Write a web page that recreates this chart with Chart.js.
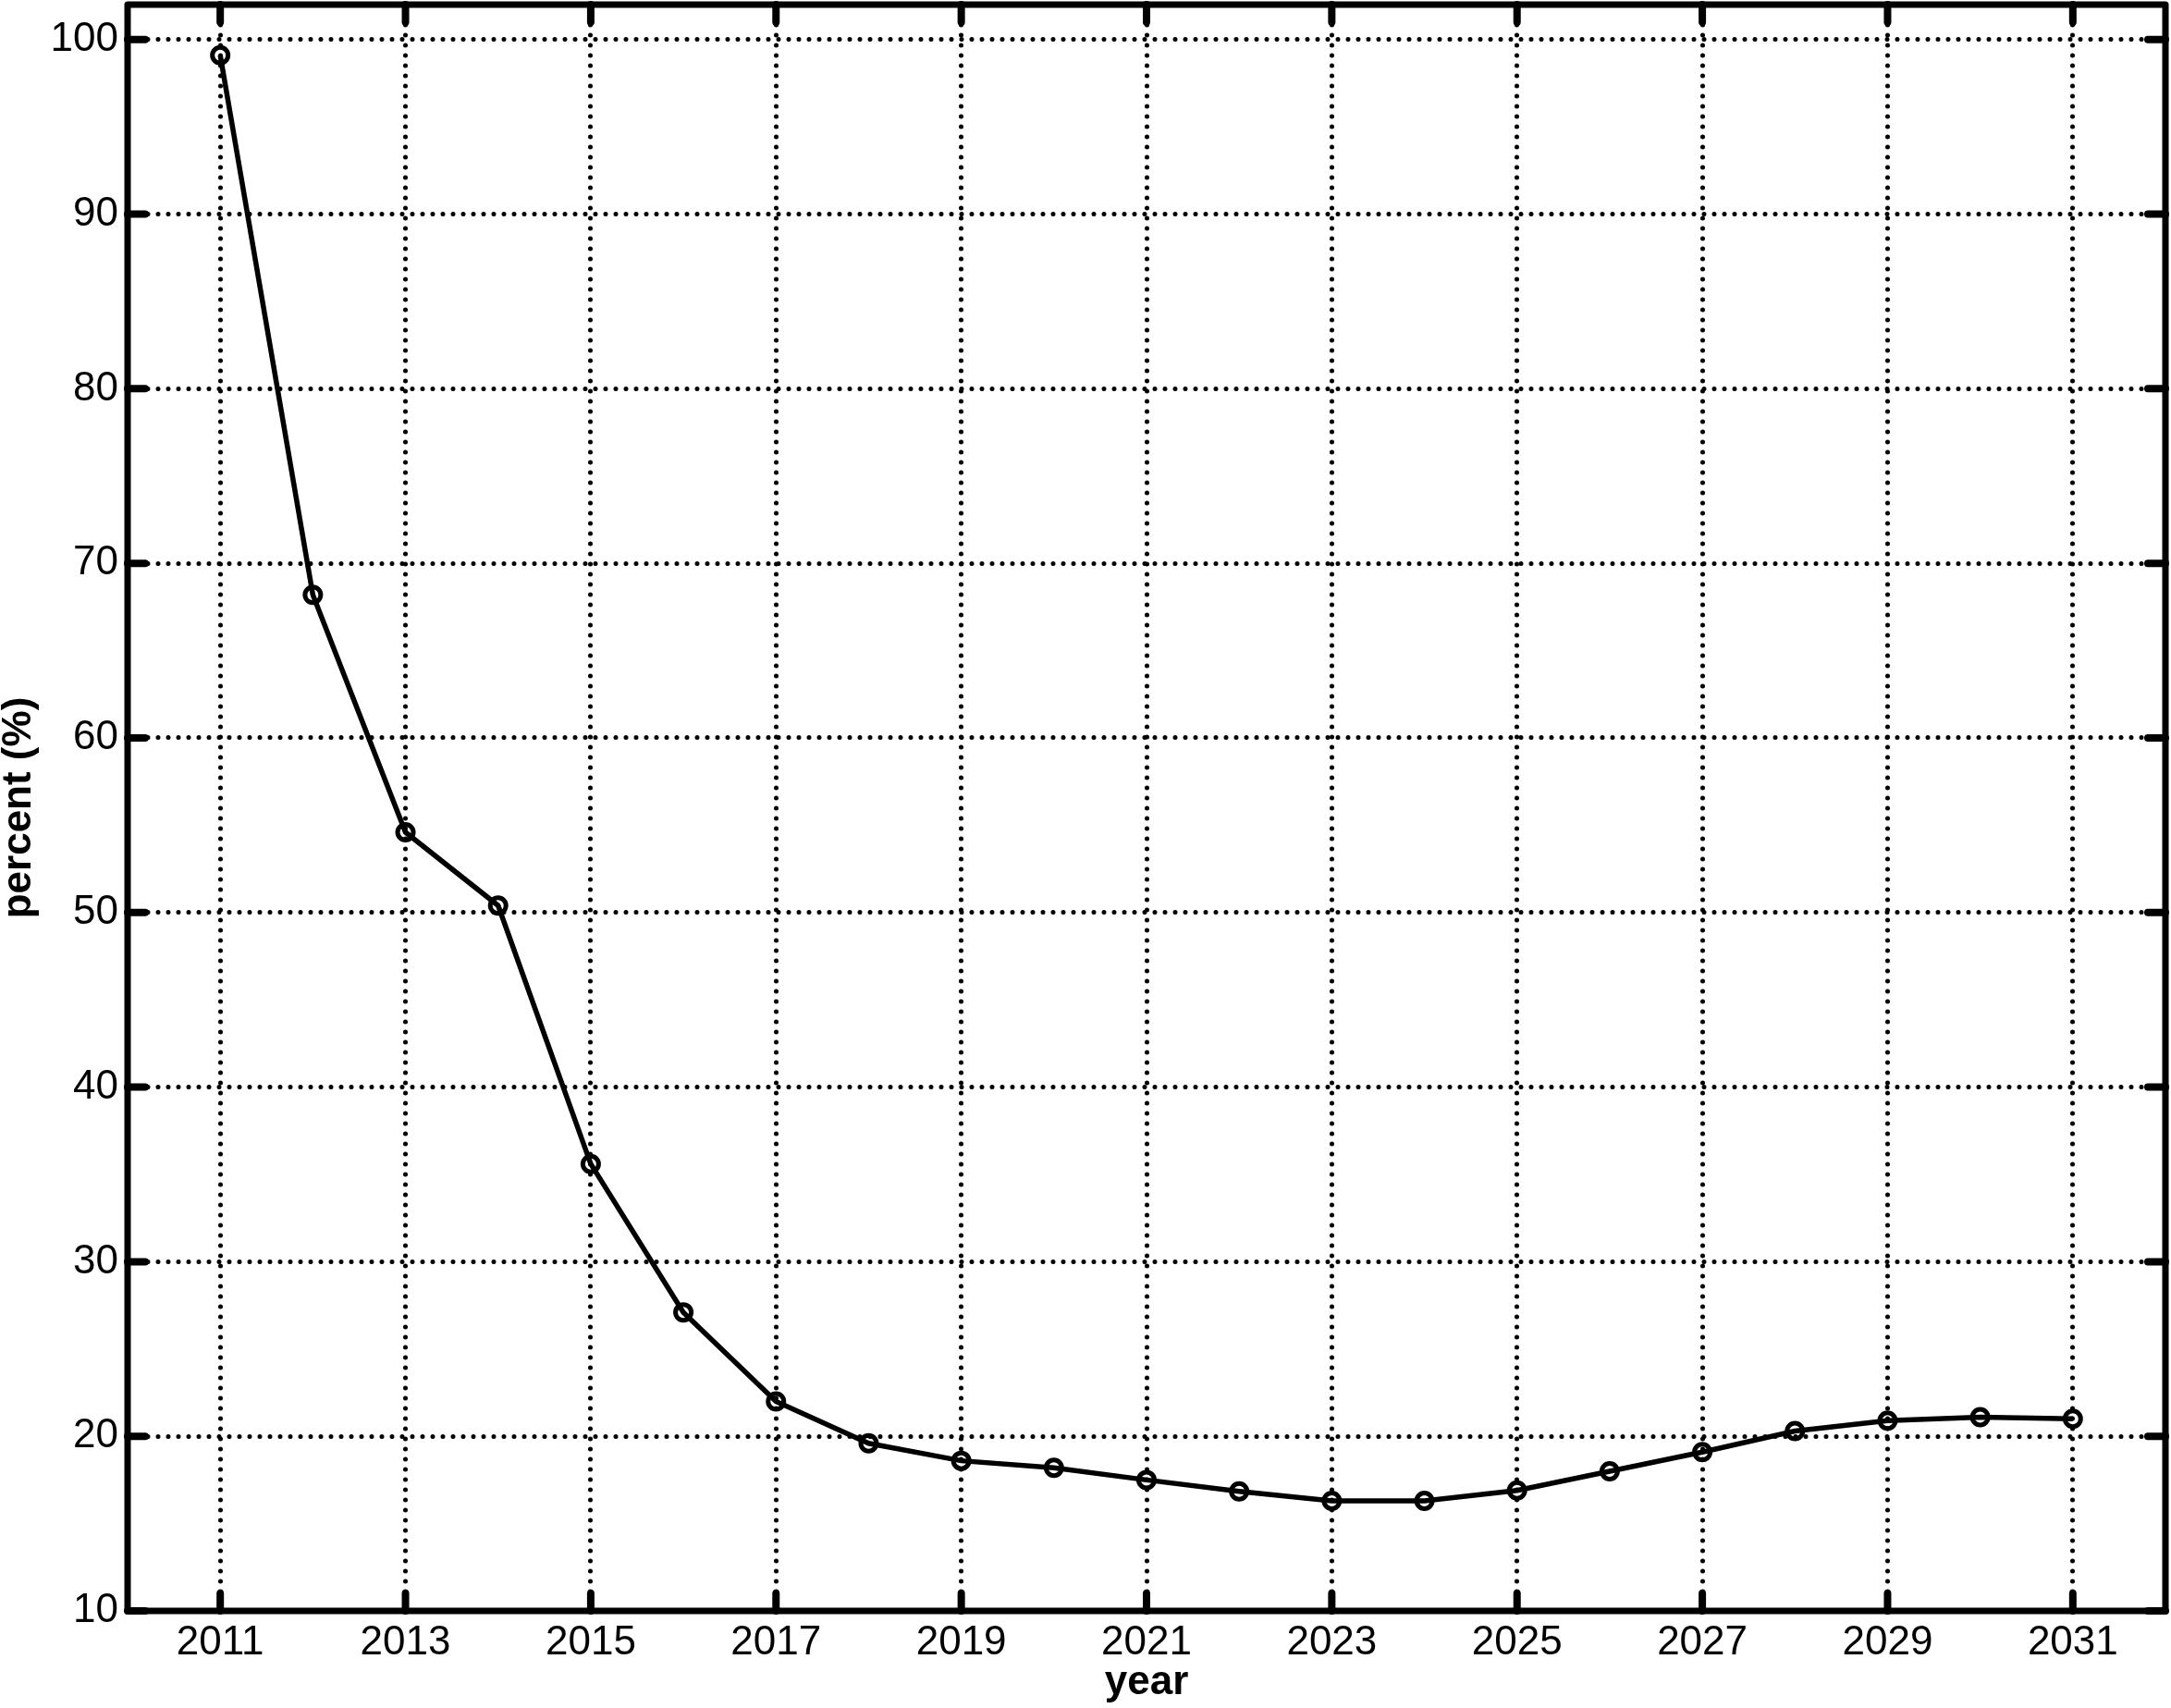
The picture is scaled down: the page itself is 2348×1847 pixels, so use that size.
<!DOCTYPE html>
<html><head><meta charset="utf-8">
<script src="https://cdn.jsdelivr.net/npm/chart.js@4/dist/chart.umd.min.js"></script>
<style>html,body{margin:0;padding:0;background:#fff;overflow:hidden}canvas{display:block}</style>
</head><body>
<canvas id="c" width="2348" height="1847"></canvas>
<script>
// ---- data ----
const years = [2011,2012,2013,2014,2015,2016,2017,2018,2019,2020,2021,2022,2023,2024,2025,2026,2027,2028,2029,2030,2031];
const percent = [99.1,68.2,54.6,50.4,35.6,27.1,22.0,19.6,18.6,18.2,17.5,16.85,16.3,16.3,16.9,18.0,19.1,20.3,20.9,21.1,21.0];
const xTickYears = [2011,2013,2015,2017,2019,2021,2023,2025,2027,2029,2031];
const yTickValues = [10,20,30,40,50,60,70,80,90,100];
const xRange = [2010, 2032];
const yRange = [10, 102];
const xTitle = 'year';
const yTitle = 'percent (%)';

const points = years.map((yr, i) => ({x: yr, y: percent[i]}));

const framePlugin = {
  id: 'frame',
  beforeDraw(chart) { chart.ctx.lineCap = 'round'; },
  afterDraw(chart) {
    const {ctx, chartArea: a, scales: {x, y}} = chart;
    ctx.save();
    ctx.strokeStyle = '#000';
    ctx.setLineDash([]);
    ctx.lineCap = 'round';
    ctx.lineWidth = 8;
    const L = 19;
    ctx.beginPath();
    x.ticks.forEach(t => {
      const px = x.getPixelForValue(t.value);
      ctx.moveTo(px, a.bottom); ctx.lineTo(px, a.bottom - L);
      ctx.moveTo(px, a.top); ctx.lineTo(px, a.top + L);
    });
    y.ticks.forEach(t => {
      const py = y.getPixelForValue(t.value);
      ctx.moveTo(a.left, py); ctx.lineTo(a.left + L, py);
      ctx.moveTo(a.right, py); ctx.lineTo(a.right - L, py);
    });
    ctx.stroke();
    ctx.lineWidth = 7;
    ctx.lineJoin = 'round';
    ctx.strokeRect(a.left, a.top, a.right - a.left, a.bottom - a.top);
    ctx.restore();
  }
};

const gridOpts = {
  color: '#000',
  lineWidth: 5,
  drawTicks: false,
  tickLength: 0
};
const borderOpts = { display: false, dash: [0, 11], dashOffset: 0 };

new Chart(document.getElementById('c'), {
  type: 'line',
  data: {
    datasets: [{
      data: points,
      borderColor: '#000',
      borderWidth: 5.5,
      tension: 0,
      fill: false,
      pointStyle: 'circle',
      pointRadius: 8.5,
      pointBorderWidth: 5,
      pointBorderColor: '#000',
      pointBackgroundColor: 'rgba(0,0,0,0)'
    }]
  },
  options: {
    responsive: false,
    animation: false,
    devicePixelRatio: 1,
    layout: { autoPadding: false, padding: { top: 5, right: 6, left: 0, bottom: 0 } },
    plugins: { legend: { display: false }, tooltip: { enabled: false } },
    scales: {
      x: {
        type: 'linear',
        min: xRange[0], max: xRange[1],
        afterBuildTicks: s => { s.ticks = xTickYears.map(v => ({value: v})); },
        afterFit: s => { s.height = 105; s.paddingLeft = 0; s.paddingRight = 0; },
        grid: gridOpts,
        border: borderOpts,
        ticks: {
          autoSkip: false, maxRotation: 0, minRotation: 0,
          padding: 8, color: '#000',
          font: { family: 'Liberation Sans', size: 44 },
          callback: v => String(v)
        },
        title: {
          display: true, text: xTitle, color: '#000',
          font: { family: 'Liberation Sans', size: 44, weight: 'bold' },
          padding: { top: 0, bottom: 1 }
        }
      },
      y: {
        type: 'linear',
        min: yRange[0], max: yRange[1],
        afterBuildTicks: s => { s.ticks = yTickValues.map(v => ({value: v})); },
        afterFit: s => { s.width = 138; s.paddingTop = 0; s.paddingBottom = 0; },
        grid: gridOpts,
        border: borderOpts,
        ticks: {
          padding: 10, color: '#000',
          font: { family: 'Liberation Sans', size: 44 },
          callback: v => String(v)
        },
        title: {
          display: true, text: yTitle, color: '#000',
          font: { family: 'Liberation Sans', size: 44, weight: 'bold' },
          padding: { top: -6, bottom: 0 }
        }
      }
    }
  },
  plugins: [framePlugin]
});
</script>
</body></html>
